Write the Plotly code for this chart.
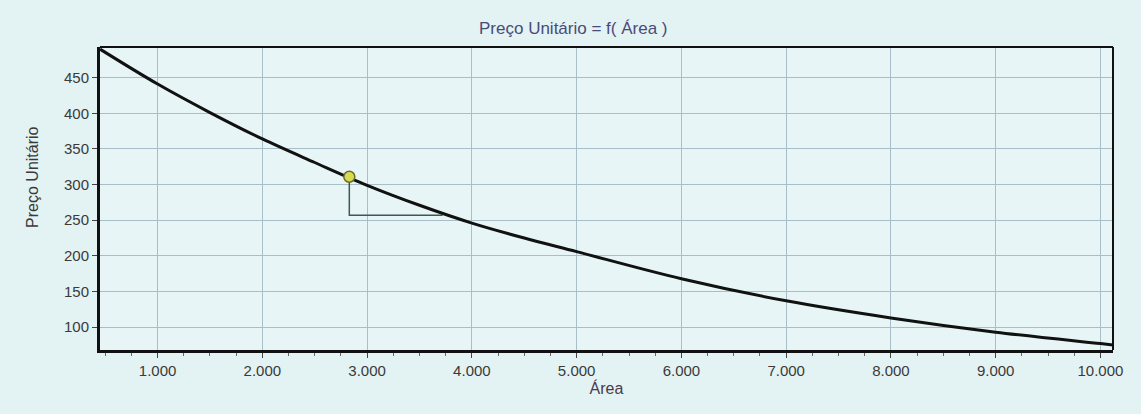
import plotly.graph_objects as go

# ---- data ----
area = [450, 1000, 1500, 2000, 2500, 3000, 3500, 4000, 4500, 5000,
        6000, 7000, 8000, 9000, 10000, 10120]
preco = [490, 441, 401, 364, 331, 299, 271, 246, 225, 206,
         168, 137, 113, 93, 77, 75]

point_area = [2830]
point_preco = [311]
drop_area = [2830, 2830, 3720]
drop_preco = [311, 257, 257]

x_ticks = [1000, 2000, 3000, 4000, 5000, 6000, 7000, 8000, 9000, 10000]
y_ticks = [100, 150, 200, 250, 300, 350, 400, 450]

FONT = "Liberation Sans, Arial, sans-serif"
TICKCOL = "#3a3a3a"
GRID = "#a8bfca"

fig = go.Figure()

fig.add_trace(go.Scatter(
    x=drop_area, y=drop_preco, mode="lines",
    line=dict(color="#3d5858", width=1.5), hoverinfo="skip", showlegend=False))

fig.add_trace(go.Scatter(
    x=area, y=preco, mode="lines",
    line=dict(color="#111111", width=3, shape="spline", smoothing=1.0),
    showlegend=False))

fig.add_trace(go.Scatter(
    x=point_area, y=point_preco, mode="markers",
    marker=dict(size=11, color="#d6dc52", line=dict(color="#6b6b2a", width=1.5)),
    showlegend=False))

fig.update_layout(
    width=1141, height=414,
    margin=dict(l=100, r=28, t=47, b=64),
    paper_bgcolor="#e3f2f3",
    plot_bgcolor="#e8f5f6",
    separators=",.",
    font=dict(family=FONT, size=15, color=TICKCOL),
    annotations=[
        dict(text="Preço Unitário = f( Área )", xref="paper", yref="paper",
             x=0.467, y=1.0, yshift=19, xanchor="center", yanchor="middle",
             showarrow=False, font=dict(family=FONT, size=17, color="#4a4a78")),
        dict(text="Preço Unitário", xref="paper", yref="paper",
             x=0, xshift=-67, y=0.568, textangle=-90, xanchor="center",
             yanchor="middle", showarrow=False,
             font=dict(family=FONT, size=16, color="#3a3a3a")),
    ],
    shapes=[
        dict(type="line", xref="paper", yref="paper", x0=0, x1=1, y0=1, y1=1,
             line=dict(color="#111111", width=2)),
        dict(type="line", xref="paper", yref="paper", x0=1, x1=1, y0=0, y1=1,
             line=dict(color="#111111", width=2)),
    ],
)

fig.update_xaxes(
    range=[450, 10120], tickvals=x_ticks, tickformat=",d",
    showgrid=True, gridcolor=GRID, gridwidth=1, zeroline=False,
    showline=True, linecolor="#111111", linewidth=3,
    ticks="outside", ticklen=5, tickcolor="#444444",
    minor=dict(dtick=250, tick0=0, ticks="outside", ticklen=3, tickcolor="#666666", showgrid=False),
    tickfont=dict(family=FONT, size=15, color=TICKCOL),
    title=dict(text="Área", standoff=0, font=dict(family=FONT, size=16, color="#4a3a4a")),
)

fig.update_yaxes(
    range=[68, 493], tickvals=y_ticks,
    showgrid=True, gridcolor=GRID, gridwidth=1, zeroline=False,
    showline=True, linecolor="#111111", linewidth=3,
    ticks="outside", ticklen=5, tickcolor="#444444",
    tickfont=dict(family=FONT, size=15, color=TICKCOL),
)

fig.write_html("out.html", config={"displayModeBar": False},
               post_script="document.body.style.margin='0';")
